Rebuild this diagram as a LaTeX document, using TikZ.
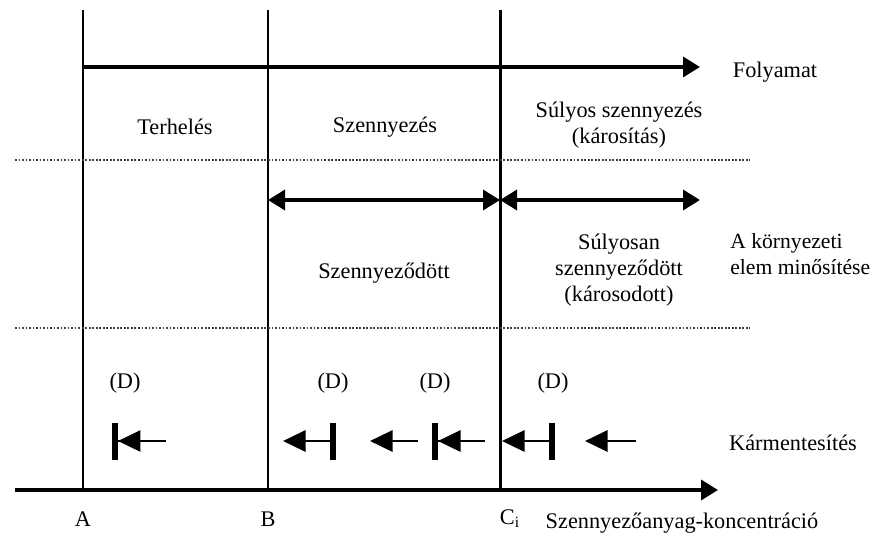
\documentclass[tikz,border=0pt]{standalone}
\usepackage{fontspec}
\setmainfont{Liberation Serif}
\usetikzlibrary{arrows.meta, positioning}

\begin{document}
\begin{tikzpicture}[x=0.02cm, y=-0.02cm,
    tri/.tip = {Triangle[length=0.45cm, width=0.42cm]},
    fej/.tip = {Triangle[length=0.34cm, width=0.4cm]},
    gat/.tip = {Bar[width=0.74cm, line width=0.12cm]},
    line/.style = {line width=1.7pt},
    sep/.style = {line width=1pt, densely dotted, black!75},
    big/.style = {line width=2pt, -{fej[]}},
    dbl/.style = {line width=2pt, {fej[]}-{fej[]}},
    kar/.style = {line width=1.7pt, -{tri[]}},
    txt/.style = {font=\fontsize{12.7}{15}\selectfont, align=center, inner sep=0pt},
  ]
    \useasboundingbox (0,0) rectangle (875,537);

    \coordinate (At) at (83,10);  \coordinate (Ab) at (83,490);
    \coordinate (Bt) at (268,10); \coordinate (Bb) at (268,490);
    \coordinate (Ct) at (500,10); \coordinate (Cb) at (500,490);
    \coordinate (ax0) at (15,490); \coordinate (ax1) at (718,490);
    \coordinate (f1) at (700,67);
    \coordinate (m0) at (268,200); \coordinate (m1) at (500,200); \coordinate (m2) at (700,200);
    \coordinate (s0) at (15,160); \coordinate (s1) at (750,160);
    \coordinate (t0) at (15,328); \coordinate (t1) at (750,328);

    \draw[line] (At) -- (Ab);
    \draw[line] (Bt) -- (Bb);
    \draw[line] (Ct) -- (Cb);
    \draw[big] (At |- f1) -- (f1);
    \draw[dbl] (m0) -- (m1);
    \draw[dbl] (m1) -- (m2);
    \draw[sep] (s0) -- (s1);
    \draw[sep] (t0) -- (t1);
    \draw[big] (ax0) -- (ax1);

    \node[txt] (folyamat) at (775,72) {Folyamat};
    \node[txt] (terheles) at (175,127) {Terhelés};
    \node[txt] (szenny) at (385,127) {Szennyezés};
    \node[txt] (sulyos) at (619,125) {Súlyos szennyezés\\(károsítás)};
    \node[txt] (szodott) at (384,273) {Szennyeződött};
    \node[txt] (sulyosan) at (619,270) {Súlyosan\\szennyeződött\\(károsodott)};
    \node[txt, font=\fontsize{12.3}{15}\selectfont, align=left, anchor=west] (minosites) at (730,254) {A környezeti\\elem minősítése};
    \node[txt] (karment) at (793,443) {Kármentesítés};

    \foreach \x [count=\i] in {125, 333, 435, 553}
        \node[txt] (D\i) at (\x,383) {(D)};

    \coordinate (k1a) at (166,441); \coordinate (k1b) at (112,441);
    \coordinate (k2a) at (336,441); \coordinate (k2b) at (283,441);
    \coordinate (k3a) at (418,441); \coordinate (k3b) at (370,441);
    \coordinate (k4a) at (485,441); \coordinate (k4b) at (432,441);
    \coordinate (k5a) at (555,441); \coordinate (k5b) at (502,441);
    \coordinate (k6a) at (636,441); \coordinate (k6b) at (585,441);

    \draw[kar, -{tri[] gat[]}] (k1a) -- (k1b);
    \draw[kar, {gat[]}-{tri[]}] (k2a) -- (k2b);
    \draw[kar] (k3a) -- (k3b);
    \draw[kar, -{tri[] gat[]}] (k4a) -- (k4b);
    \draw[kar, {gat[]}-{tri[]}] (k5a) -- (k5b);
    \draw[kar] (k6a) -- (k6b);

    \node[txt] (lA) at (83,519) {A};
    \node[txt] (lB) at (268,519) {B};
    \node[txt] (lC) at (510,519) {C\textsubscript{i}};
    \node[txt] (konc) at (682,523) {Szennyezőanyag-koncentráció};
\end{tikzpicture}
\end{document}
